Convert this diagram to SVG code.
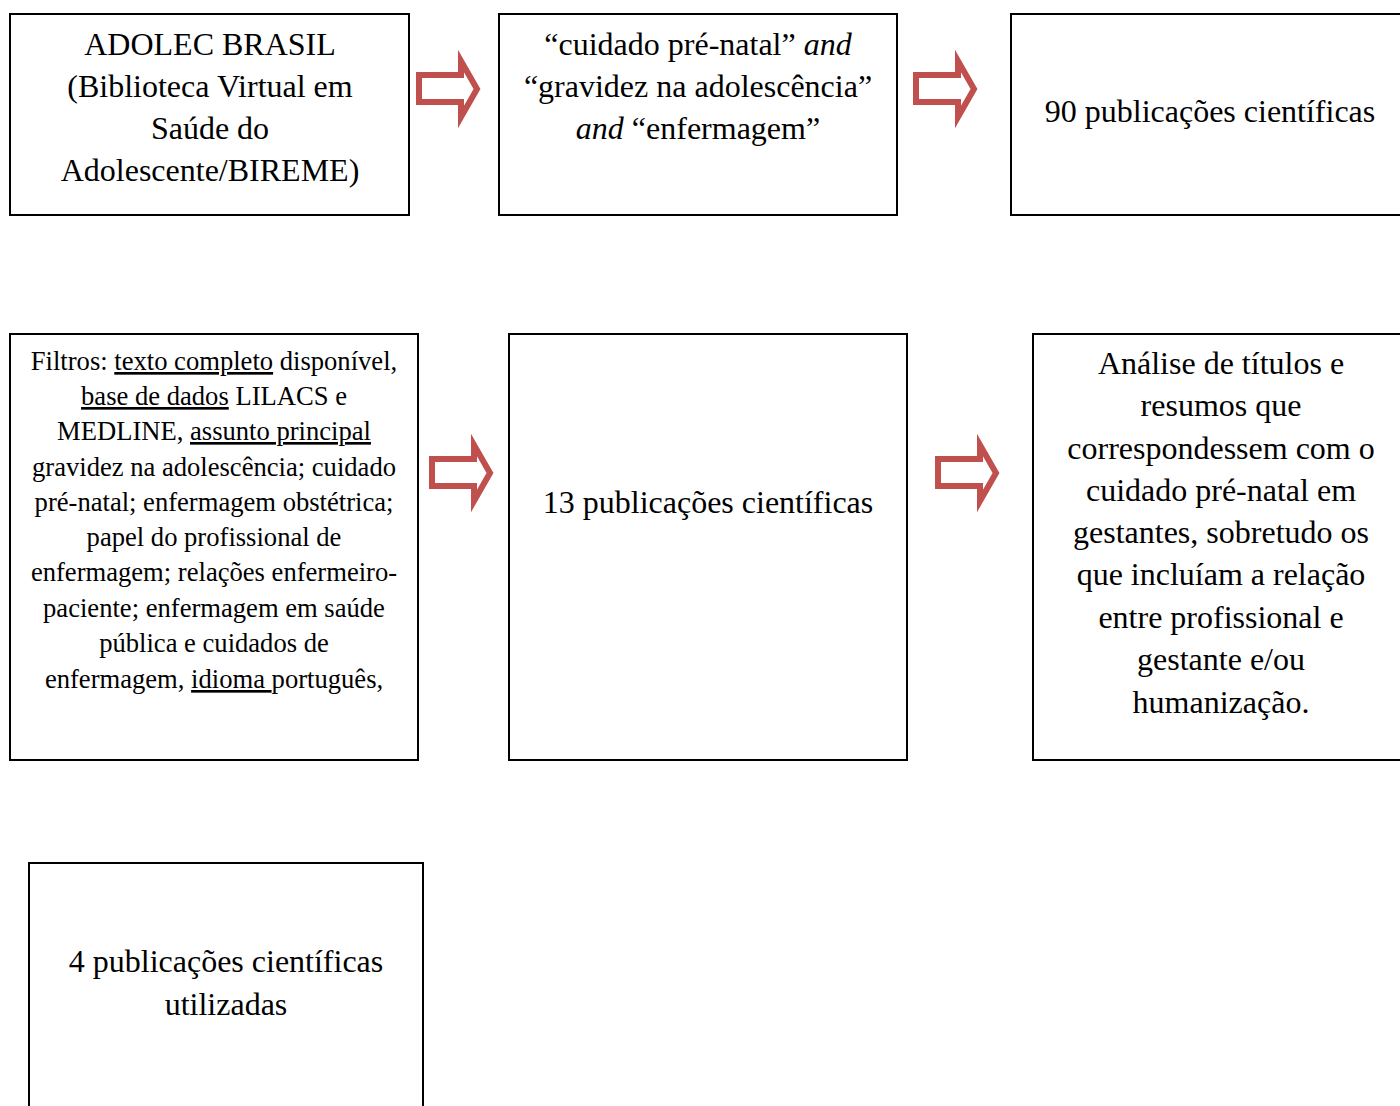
<svg xmlns="http://www.w3.org/2000/svg" width="1400" height="1106" viewBox="0 0 1400 1106">
<style>
.box{fill:#fff;stroke:#000;stroke-width:2}
.t{font-family:"Liberation Serif","Times New Roman",serif;font-size:32px;fill:#000;text-anchor:middle}
.s{font-family:"Liberation Serif","Times New Roman",serif;font-size:26.6px;fill:#000;text-anchor:middle}
.u{text-decoration:underline}
.i{font-style:italic}
.arr{fill:#fff;stroke:#c0504d;stroke-width:6;stroke-linejoin:miter;stroke-miterlimit:10}
</style>
<defs>
<polygon id="arrow" class="arr" points="419,75 461,75 461,61 477,89 461,117 461,102 419,102"/>
</defs>
<rect width="1400" height="1106" fill="#fff"/>
<g id="connectors">
<use href="#arrow"/>
<use href="#arrow" transform="translate(497,0)"/>
<use href="#arrow" transform="translate(13,384)"/>
<use href="#arrow" transform="translate(519,384)"/>
</g>
<g id="n1">
<rect class="box" x="10" y="14" width="399" height="201"/>
<text class="t" x="210" y="55">ADOLEC BRASIL</text>
<text class="t" x="210" y="97">(Biblioteca Virtual em</text>
<text class="t" x="210" y="139">Saúde do</text>
<text class="t" x="210" y="181">Adolescente/BIREME)</text>
</g>
<g id="n2">
<rect class="box" x="499" y="14" width="398" height="201"/>
<text class="t" x="698" y="55">“cuidado pré-natal” <tspan class="i">and</tspan></text>
<text class="t" x="698" y="97">“gravidez na adolescência”</text>
<text class="t" x="698" y="139"><tspan class="i">and</tspan> “enfermagem”</text>
</g>
<g id="n3">
<rect class="box" x="1011" y="14" width="400" height="201"/>
<text class="t" x="1210" y="122">90 publicações científicas</text>
</g>
<g id="n4">
<rect class="box" x="10" y="334" width="408" height="426"/>
<text class="s" x="214" y="370">Filtros: <tspan class="u">texto completo</tspan> disponível,</text>
<text class="s" x="214" y="405"><tspan class="u">base de dados</tspan> LILACS e</text>
<text class="s" x="214" y="440">MEDLINE, <tspan class="u">assunto principal</tspan></text>
<text class="s" x="214" y="476">gravidez na adolescência; cuidado</text>
<text class="s" x="214" y="511">pré-natal; enfermagem obstétrica;</text>
<text class="s" x="214" y="546">papel do profissional de</text>
<text class="s" x="214" y="581">enfermagem; relações enfermeiro-</text>
<text class="s" x="214" y="617">paciente; enfermagem em saúde</text>
<text class="s" x="214" y="652">pública e cuidados de</text>
<text class="s" x="214" y="688">enfermagem, <tspan class="u">idioma </tspan>português,</text>
</g>
<g id="n5">
<rect class="box" x="509" y="334" width="398" height="426"/>
<text class="t" x="708" y="513">13 publicações científicas</text>
</g>
<g id="n6">
<rect class="box" x="1033" y="334" width="376" height="426"/>
<text class="t" x="1221" y="374">Análise de títulos e</text>
<text class="t" x="1221" y="416">resumos que</text>
<text class="t" x="1221" y="459">correspondessem com o</text>
<text class="t" x="1221" y="501">cuidado pré-natal em</text>
<text class="t" x="1221" y="543">gestantes, sobretudo os</text>
<text class="t" x="1221" y="585">que incluíam a relação</text>
<text class="t" x="1221" y="628">entre profissional e</text>
<text class="t" x="1221" y="670">gestante e/ou</text>
<text class="t" x="1221" y="713">humanização.</text>
</g>
<g id="n7">
<rect class="box" x="29" y="863" width="394" height="260"/>
<text class="t" x="226" y="972">4 publicações científicas</text>
<text class="t" x="226" y="1015">utilizadas</text>
</g>
</svg>
